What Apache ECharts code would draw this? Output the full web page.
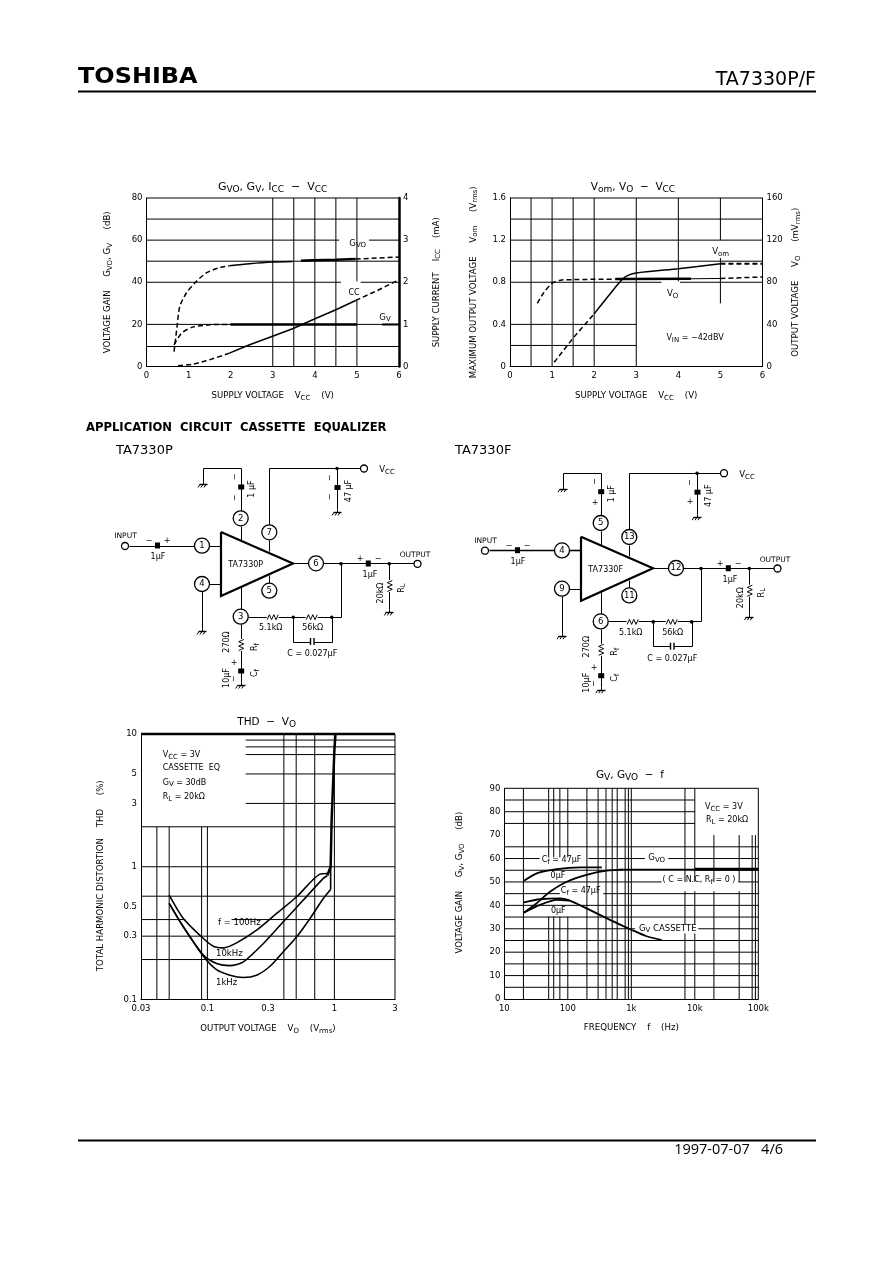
<!DOCTYPE html>
<html><head><meta charset="utf-8">
<style>html,body{margin:0;padding:0;background:#fff}#c{width:892px;height:1263px}</style>
<script src="https://cdn.jsdelivr.net/npm/echarts@6/dist/echarts.min.js"></script>
</head><body><div id="c"></div>
<script>
// ---- Chart 1: GVO, GV, ICC - VCC
const xTicks1=[0,1,2,3,4,5,6];
const gvoDash1=[[0.655,7.1],[0.726,19],[0.79,28.5],[0.947,34.9],[1.145,39.6],[1.42,44.4],[1.74,47],[1.97,47.8]];
const gvoThin1=[[1.97,47.8],[2.45,48.8],[2.98,49.6],[3.47,49.9]];
const gvoThick1=[[3.67,50.2],[3.95,50.4],[4.5,50.7],[4.97,51]];
const gvoDashEnd1=[[4.97,51],[5.5,51.5],[6,52]];
const gvDash1=[[0.655,10.3],[0.83,15.8],[1.1,18.7],[1.5,19.8],[2,20]];
const gvSolid1=[[2,20],[3.5,20],[5,20]];
const gvEnd1=[[5.6,20],[6,20]];
const iccDash1=[[0.75,0.016],[1.1,0.055],[1.42,0.135],[1.97,0.317]];
const iccSolid1=[[1.97,0.317],[2.45,0.515],[2.98,0.713],[3.47,0.895],[3.95,1.109],[4.5,1.347],[4.97,1.568]];
const iccDashEnd1=[[4.97,1.568],[5.5,1.81],[6,2.06]];
const grid1V=[[3,0,80],[3.5,0,80],[4,0,80],[4.5,0,80],[5,0,31.7],[5,40.4,80]];
const grid1H=[[70,0,6],[60,0,4.58],[60,5.29,6],[50,0,6],[40,0,4.62],[40,5.09,6],[20,0,6],[9.5,0,6]];
// ---- Chart 2: Vom, Vo - VCC
const vomDash2=[[1.05,0.04],[1.5,0.27],[2,0.5]];
const vomSolid2=[[2,0.5],[2.4,0.7],[2.7,0.84],[3,0.887],[4,0.928],[5,0.976]];
const vomEnd2=[[5,0.976],[6,0.976]];
const voDash2=[[0.65,60],[0.8,70],[1,79],[1.2,82],[1.5,82.5],[2.5,83]];
const voThick2=[[2.5,83],[4.3,83.3]];
const voThin2=[[4.3,83.3],[5,83.6]];
const voEnd2=[[5,83.6],[6,85]];
const grid2V=[[0.5,0,1.6],[1,0,1.6],[1.5,0,1.6],[2,0,1.6],[3,0,1.6],[4,0.808,1.6],[5,0.6,1.03],[5,1.2,1.6]];
const grid2H=[[1.4,0,6],[1.2,0,6],[1,0,6],[0.8,0,3.6],[0.8,4.04,6],[0.4,0,3],[0.2,0,3]];
// ---- Chart 3: THD - Vo
const thdX=[0.03,0.1,0.3,1,3];
const thdY=[0.1,0.3,0.5,1,3,5,10];
const thd100=[[0.05,0.611],[0.0646,0.408],[0.093,0.288],[0.1114,0.252],[0.1335,0.245],[0.1698,0.267],[0.244,0.333],[0.351,0.445],[0.505,0.594],[0.769,0.88],[0.879,0.89]];
const thd10k=[[0.05,0.53],[0.0646,0.353],[0.093,0.216],[0.118,0.187],[0.1505,0.18],[0.192,0.192],[0.276,0.264],[0.396,0.385],[0.569,0.561],[0.818,0.817],[0.879,0.855]];
const thd1k=[[0.05,0.53],[0.0646,0.353],[0.093,0.212],[0.118,0.168],[0.1505,0.1525],[0.192,0.1465],[0.244,0.1525],[0.311,0.178],[0.396,0.229],[0.505,0.297],[0.643,0.408],[0.818,0.577],[0.934,0.675]];
const thd1kRise=[[0.934,0.675],[0.934,1]];
const thdSteep=[[0.879,0.86],[0.902,0.89],[0.934,1],[0.951,2.25],[1,7.6],[1.02,10]];
const grid3V=[[0.04,0.1,2],[0.05,0.1,2],[0.09,0.1,2],[0.1,0.1,2],[0.4,0.1,10],[0.5,0.1,10],[0.7,0.1,10],[1,0.1,10]];
const grid3H=[[9,0.2,3],[8,0.2,3],[7,0.2,3],[5,0.2,3],[3,0.2,3],[2,0.03,3],[1,0.03,3],[0.6,0.03,3],[0.4,0.03,0.067],[0.4,0.155,3],[0.3,0.03,3],[0.2,0.03,3]];
// ---- Chart 4: GV, GVO - f
const freqTicks={10:'10',100:'100',1000:'1k',10000:'10k',100000:'100k'};
const gvo47=[[20.4,50.5],[32.4,53.7],[66.9,55.5],[155,56.2],[343,56.2]];
const gvo0=[[20.4,36.9],[32.4,40.9],[52.4,45.8],[96,50.1],[198,53],[407,54.8],[750,55.4]];
const gvoFlatThin=[[750,55.4],[10000,55.4]];
const gvoFlatThick=[[10000,55.4],[100000,55.4]];
const gv47=[[20.4,41.3],[36.5,42.6],[75.4,43],[108,42],[198,38.7],[462,33.8],[1000,29.6],[1743,26.8],[3003,25.2]];
const gv0=[[20.4,36.9],[36.5,40.2],[66.9,42.3],[108,42]];
const grid4V=[[20,0,90],
 [50,0,35.2],[50,60.5,90],[60,0,35.2],[60,60.5,90],[75,0,35.2],[75,60.5,90],[100,0,35.2],[100,60.5,90],
 [200,0,90],[300,0,90],[400,0,90],[500,0,90],[600,0,90],[800,0,90],[900,0,90],[1000,0,90],
 [7000,0,28],[7000,32,46],[7000,50,90],[10000,0,28],[10000,32,46],[10000,50,90],
 [20000,0,46],[20000,50,70],[50000,0,46],[50000,50,70],[80000,0,70],[90000,0,70]];
const grid4H=[[85,10,10000],[80,10,10000],[75,10,10000],[65,10,100000],
 [60,10,36],[60,211,1640],[60,3826,100000],[55,10,100000],[50,10,3000],[50,48400,100000],
 [45,10,75],[45,362,100000],[40,10,100000],[35,10,100000],[30,10,1143],[30,11350,100000],
 [25,10,100000],[20,10,100000],[15,10,100000],[10,10,100000],[5,10,100000]];

const FONT='"DejaVu Sans"';
const INK='#000';
const rich=(fs,bold,ff)=>({
  n:{fontSize:fs,fontFamily:ff||FONT,color:INK,fontWeight:bold?'bold':'normal'},
  s:{fontSize:Math.round(fs*0.82),fontFamily:ff||FONT,color:INK,verticalAlign:'bottom',padding:[Math.round(fs*0.45),0,0,0]}
});
function mk(t){
  return t.split(/(_\{[^}]*\})/).filter(Boolean).map(p=>p[0]==='_'?'{s|'+p.slice(2,-1)+'}':'{n|'+p+'}').join('');
}
function segsV(a){const o=[];a.forEach(s=>{o.push([s[0],s[1]],[s[0],s[2]],['-','-']);});return o;}
function segsH(a){const o=[];a.forEach(s=>{o.push([s[1],s[0]],[s[2],s[0]],['-','-']);});return o;}
function line(g,y,data,w,dash,smooth){
  return {type:'line',xAxisIndex:g,yAxisIndex:y,data,symbol:'none',silent:true,animation:false,smooth:smooth?0.25:false,
    connectNulls:false,z:3,lineStyle:{color:INK,width:w,type:dash?[5,3]:'solid'},clip:false};
}
function gridLines(g,y,V,H){
  return {type:'line',xAxisIndex:g,yAxisIndex:y,data:segsV(V).concat(segsH(H)),symbol:'none',silent:true,animation:false,
    connectNulls:false,z:1,lineStyle:{color:INK,width:1},clip:false};
}
const series=[
  gridLines(0,0,grid1V,grid1H),
  line(0,0,gvoDash1,1.5,true,true),line(0,0,gvoThin1,1.5,false,true),line(0,0,gvoThick1,2.5),line(0,0,gvoDashEnd1,1.5,true),
  line(0,0,gvDash1,1.5,true,true),line(0,0,gvSolid1,2.5),line(0,0,gvEnd1,2),
  line(0,1,iccDash1,1.5,true,true),line(0,1,iccSolid1,1.5),line(0,1,iccDashEnd1,1.5,true),
  gridLines(1,2,grid2V,grid2H),
  line(1,2,vomDash2,1.5,true),line(1,2,vomSolid2,1.5,false,true),line(1,2,vomEnd2,2,true),
  line(1,3,voDash2,1.5,true,true),line(1,3,voThick2,2.5),line(1,3,voThin2,1),line(1,3,voEnd2,1.5,true),
  gridLines(2,4,grid3V,grid3H),
  line(2,4,thd100,1.6,false,true),line(2,4,thd10k,1.6,false,true),line(2,4,thd1k,1.6,false,true),line(2,4,thd1kRise,1.6),line(2,4,thdSteep,2.5),
  gridLines(3,5,grid4V,grid4H),
  line(3,5,gvo47,1.8,false,true),line(3,5,gvo0,1.8,false,true),line(3,5,gvoFlatThin,1.2),line(3,5,gvoFlatThick,3),
  line(3,5,gv47,1.8,false,true),line(3,5,gv0,1.8,false,true)
];
const NF=8.6;
const lab={color:INK,fontFamily:FONT,fontSize:8.5};
const al=(w=1)=>({show:true,onZero:false,lineStyle:{color:INK,width:w}});
function xLinear(g,name,gap){return {type:'value',gridIndex:g,min:0,max:6,interval:1,name:mk(name),nameLocation:'middle',nameGap:gap,
  nameTextStyle:{rich:rich(NF)},axisLine:al(),axisTick:{show:false},splitLine:{show:false},axisLabel:Object.assign({margin:5},lab)};}
function yVal(g,min,max,intv,pos,name,gap,w,pad){return {type:'value',gridIndex:g,min,max,interval:intv,position:pos,name:mk(name),nameLocation:'middle',nameGap:gap,nameRotate:90,
  nameTextStyle:{rich:rich(NF),padding:pad||0},axisLine:al(w||1),axisTick:{show:false},splitLine:{show:false},axisLabel:Object.assign({margin:4},lab)};}

const G=[];
const ga={silent:true};
function W(pts,w){const snap=pts.map(p=>[Math.round(p[0])+.5,Math.round(p[1])+.5]);
  G.push({type:'polyline',...ga,z:10,shape:{points:snap},style:{stroke:INK,lineWidth:w||1,fill:null}});}
function RAW(pts,w,z){G.push({type:'polyline',...ga,z:z||10,shape:{points:pts},style:{stroke:INK,lineWidth:w||1,fill:null}});}
function CIR(x,y,r,w){G.push({type:'circle',...ga,z:11,shape:{cx:x,cy:y,r},style:{stroke:INK,lineWidth:w||1.3,fill:'#fff'}});}
function DOT(x,y){G.push({type:'circle',...ga,z:12,shape:{cx:x,cy:y,r:1.8},style:{fill:INK}});}
function TX(x,y,t,o){o=o||{};const fs=o.fs||8;const ff=o.ff||FONT;
  G.push({type:'text',...ga,z:13,x,y,rotation:o.rot||0,scaleX:o.sx||1,style:{text:mk(t),rich:rich(fs,o.bold,ff),align:o.align||'center',verticalAlign:'middle',fill:INK,font:`${o.bold?'bold ':''}${fs}px ${ff}`}});}
function GND(x,y){W([[x,y-3],[x,y]]);W([[x-4,y],[x+4,y]],1.4);RAW([[x-3,y+.5],[x-5,y+3.5]],1);RAW([[x,y+.5],[x-2,y+3.5]],1);RAW([[x+3,y+.5],[x+1,y+3.5]],1);}
function CAPV(x,y){G.push({type:'rect',...ga,z:12,shape:{x:x-2.5,y:y-2.5,width:6,height:5},style:{fill:INK}});}
function CAPH(x,y){G.push({type:'rect',...ga,z:12,shape:{x:x-2.5,y:y-2.5,width:5,height:6},style:{fill:INK}});}
function RESH(x,y){const a=[];for(let i=-5;i<=5;i++)a.push([x+i*1.1,y+.5+(i%2?(i%4==1||i%4==-3?-2.5:2.5):0)]);
  G.push({type:'rect',...ga,z:11,shape:{x:x-6,y:y-1,width:12,height:3},style:{fill:'#fff'}});RAW(a,1,12);}
function RESV(x,y){const a=[];for(let i=-5;i<=5;i++)a.push([x+.5+(i%2?(i%4==1||i%4==-3?-2.5:2.5):0),y+i*1.1]);
  G.push({type:'rect',...ga,z:11,shape:{x:x-1,y:y-6,width:3,height:12},style:{fill:'#fff'}});RAW(a,1,12);}
function circuit(dx,dy,p,opt){
  const X=x=>x+dx,Y=y=>y+dy;
  RAW([[X(221),Y(532)],[X(221),Y(596)],[X(293),Y(563.5)],[X(221),Y(532)]],2.2);
  W([[X(240.7),Y(526)],[X(240.7),Y(540)]]);
  W([[X(240.7),Y(511)],[X(240.7),Y(468)],[X(203),Y(468)],[X(203),Y(481)]]);GND(X(203),Y(484));
  CAPV(X(240.7),Y(487));
  TX(X(252),Y(489),'1 µF',{rot:Math.PI/2});
  TX(X(235),Y(477),'−',{rot:Math.PI/2});TX(X(235),Y(498),opt.f?'+':'−',{rot:opt.f?0:Math.PI/2});
  W([[X(269.3),Y(525)],[X(269.3),Y(468)],[X(360),Y(468)]]);W([[X(269.3),Y(540)],[X(269.3),Y(551)]]);
  DOT(X(337),Y(468.5));CIR(X(364),Y(468.5),3.5);TX(X(387),Y(470),'V_{CC}',{fs:8.5});
  W([[X(337),Y(468)],[X(337),Y(509)]]);GND(X(337),Y(512));CAPV(X(337),Y(487.5));
  TX(X(349),Y(491),'47 µF',{rot:Math.PI/2});TX(X(330),Y(478),'−',{rot:Math.PI/2});TX(X(330),Y(497),opt.f?'+':'−',{rot:opt.f?0:Math.PI/2});
  W([[X(129),Y(545.7)],[X(195),Y(545.7)]],opt.f?1.6:1);CAPH(X(157.5),Y(545));CIR(X(125),Y(546),3.5);
  W([[X(209),Y(545.7)],[X(221),Y(545.7)]],opt.f?1.6:1);
  TX(X(125.5),Y(536),'INPUT',{fs:7.5});TX(X(149),Y(541),'−',{});TX(X(167),Y(541),opt.f?'−':'+',{});TX(X(158),Y(557),'1µF',{});
  W([[X(209),Y(584)],[X(221),Y(584)]]);W([[X(202),Y(591)],[X(202),Y(628)]]);GND(X(202),Y(631));
  W([[X(293),Y(563.3)],[X(309),Y(563.3)]]);W([[X(323),Y(563.3)],[X(414),Y(563.3)]]);
  DOT(X(341),Y(563.8));DOT(X(389.3),Y(563.8));CAPH(X(368.3),Y(563));CIR(X(417.5),Y(563.8),3.5);
  TX(X(360),Y(559),'+');TX(X(378),Y(559),'−');TX(X(370),Y(575),'1µF');TX(X(415),Y(555),'OUTPUT',{fs:7.5});
  W([[X(389.3),Y(563.3)],[X(389.3),Y(609)]]);GND(X(389.3),Y(612));RESV(X(389.3),Y(586));
  TX(X(380.5),Y(593),'20kΩ',{rot:Math.PI/2});TX(X(401.5),Y(588),'R_{L}',{rot:Math.PI/2});
  W([[X(341),Y(563.3)],[X(341),Y(616.7)],[X(248),Y(616.7)]],1);
  DOT(X(293.3),Y(617.2));DOT(X(331.7),Y(617.2));RESH(X(272.7),Y(616.7));RESH(X(311.7),Y(616.7));
  TX(X(270.7),Y(628),'5.1kΩ');TX(X(312.7),Y(628),'56kΩ');
  W([[X(293.3),Y(616.7)],[X(293.3),Y(641.7)],[X(331.7),Y(641.7)],[X(331.7),Y(616.7)]]);
  G.push({type:'rect',...ga,z:11,shape:{x:X(310.5),y:Y(638),width:3.6,height:7},style:{fill:'#fff'}});
  RAW([[X(310.5),Y(638)],[X(310.5),Y(645)]],1.4,12);RAW([[X(314),Y(638)],[X(314),Y(645)]],1.4,12);
  TX(X(312.3),Y(654.3),'C = 0.027µF');
  W([[X(240.7),Y(609)],[X(240.7),Y(585.5)]]);W([[X(269.3),Y(583)],[X(269.3),Y(575)]]);
  W([[X(240.7),Y(624)],[X(240.7),Y(682)]]);RESV(X(240.7),Y(645));CAPV(X(240.7),Y(671));GND(X(240.7),Y(685));
  TX(X(226.7),Y(642),'270Ω',{rot:Math.PI/2});TX(X(255),Y(647),'R_{f}',{rot:Math.PI/2});
  TX(X(226.7),Y(678),'10µF',{rot:Math.PI/2});TX(X(255),Y(673),'C_{f}',{rot:Math.PI/2});
  TX(X(234),Y(663),'+');TX(X(234),Y(679),'−',{rot:Math.PI/2});
  [[240.7,518.3,p[0]],[269.3,532.3,p[1]],[202,545.7,p[2]],[202,584,p[3]],[316,563.3,p[4]],[269.3,590.7,p[5]],[240.7,616.7,p[6]]].forEach(q=>{
    CIR(X(q[0]),Y(q[1]),7.5);TX(X(q[0]),Y(q[1]),q[2],{fs:8.5});
  });
  TX(X(245.7),Y(565),opt.name,{fs:8});
}
circuit(0,0,['2','7','1','4','6','5','3'],{name:'TA7330P'});
circuit(360,4.7,['5','13','4','9','12','11','6'],{name:'TA7330F',f:true});
TX(78,77.5,'TOSHIBA',{fs:21,bold:true,align:'left',sx:1.14});
TX(816,80,'TA7330P/F',{fs:19,align:'right'});
G.push({type:'line',...ga,shape:{x1:78,y1:91.5,x2:816,y2:91.5},style:{stroke:INK,lineWidth:2}});
G.push({type:'line',...ga,shape:{x1:78,y1:1140.5,x2:816,y2:1140.5},style:{stroke:INK,lineWidth:2}});
TX(783,1150,'1997-07-07   4/6',{fs:14.5,align:'right',ff:'"Open Sans"'});
TX(86,428,'APPLICATION  CIRCUIT  CASSETTE  EQUALIZER',{fs:11.6,bold:true,align:'left'});
TX(116,451,'TA7330P',{fs:13,align:'left'});
TX(455,451,'TA7330F',{fs:13,align:'left'});
TX(272.7,187.3,'G_{VO}, G_{V}, I_{CC}  −  V_{CC}',{fs:11});
TX(633,187.3,'V_{om}, V_{O}  −  V_{CC}',{fs:10.5});
TX(266.7,722,'THD  −  V_{O}',{fs:10.5});
TX(630,775,'G_{V}, G_{VO}  −  f',{fs:10.5});
TX(357.7,243.3,'G_{VO}',{fs:8.5});TX(354,292.7,'CC',{fs:8});TX(385,317.3,'G_{V}',{fs:8.5});
TX(720.7,251.7,'V_{om}',{fs:8.5});TX(672.7,294,'V_{O}',{fs:8.5});TX(695,337.7,'V_{IN} = −42dBV',{fs:8});
TX(162.7,755,'V_{CC} = 3V',{align:'left'});TX(162.7,768,'CASSETTE  EQ',{align:'left'});TX(162.7,782.5,'G_{V} = 30dB',{align:'left'});TX(162.7,796.7,'R_{L} = 20kΩ',{align:'left'});
TX(218,923,'f = 100Hz',{align:'left',fs:8.5});TX(216,954,'10kHz',{align:'left',fs:8.5});TX(216,982.7,'1kHz',{align:'left',fs:8.5});
TX(705,807,'V_{CC} = 3V',{align:'left'});TX(706,820,'R_{L} = 20kΩ',{align:'left'});
TX(541.7,860,'C_{f} = 47µF',{align:'left'});TX(656.7,857.7,'G_{VO}',{fs:8.5});TX(699,880,'( C = N.C, R_{f} = 0 )');
TX(558,875.7,'0µF');TX(580.7,891,'C_{f} = 47µF');TX(558.3,910.7,'0µF');TX(667.7,928.3,'G_{V} CASSETTE',{fs:8.5});

const option={
  animation:false,backgroundColor:'#fff',
  grid:[
    {left:146.5,top:198,width:252.5,height:168.5},
    {left:510,top:198,width:252.5,height:168.5},
    {left:141,top:734,width:254,height:265.5},
    {left:504.3,top:788.3,width:254,height:210.7}
  ],
  xAxis:[
    xLinear(0,'SUPPLY VOLTAGE    V_{CC}    (V)',24),
    xLinear(1,'SUPPLY VOLTAGE    V_{CC}    (V)',24),
    {type:'log',gridIndex:2,logBase:10,min:thdX[0],max:thdX[thdX.length-1],name:mk('OUTPUT VOLTAGE    V_{O}    (V_{rms})'),nameLocation:'middle',nameGap:24,
     nameTextStyle:{rich:rich(NF)},axisLine:{show:true,lineStyle:{color:INK,width:1}},axisTick:{show:false},splitLine:{show:false},minorSplitLine:{show:false},
     axisLabel:Object.assign({margin:5,customValues:thdX,showMinLabel:true,showMaxLabel:true,formatter:v=>String(+(+v).toPrecision(2))},lab)},
    {type:'log',gridIndex:3,logBase:10,min:10,max:100000,name:mk('FREQUENCY    f    (Hz)'),nameLocation:'middle',nameGap:24,
     nameTextStyle:{rich:rich(NF)},axisLine:{show:true,lineStyle:{color:INK,width:1}},axisTick:{show:false},splitLine:{show:false},minorSplitLine:{show:false},
     axisLabel:Object.assign({margin:5,formatter:v=>freqTicks[Math.round(v)]||''},lab)}
  ],
  yAxis:[
    yVal(0,0,80,20,'left','VOLTAGE GAIN     G_{VO}, G_{V}     (dB)',33),
    yVal(0,0,4,1,'right','SUPPLY CURRENT    I_{CC}    (mA)',32,2.5),
    yVal(1,0,1.6,0.4,'left','MAXIMUM OUTPUT VOLTAGE     V_{om}     (V_{rms})',31),
    yVal(1,0,160,40,'right','OUTPUT VOLTAGE     V_{O}     (mV_{rms})',28),
    {type:'log',gridIndex:2,logBase:10,min:0.1,max:10,name:mk('TOTAL HARMONIC DISTORTION    THD     (%)'),nameLocation:'middle',nameGap:36,nameRotate:90,
     nameTextStyle:{rich:rich(NF),padding:[0,18,0,0]},axisLine:{show:true,lineStyle:{color:INK,width:1}},axisTick:{show:false},splitLine:{show:false},minorSplitLine:{show:false},
     axisLabel:Object.assign({margin:4,customValues:thdY,showMinLabel:true,showMaxLabel:true,formatter:v=>String(+(+v).toPrecision(2))},lab)},
    {type:'value',gridIndex:3,min:0,max:90,interval:10,name:mk('VOLTAGE GAIN     G_{V}, G_{VO}     (dB)'),nameLocation:'middle',nameGap:39,nameRotate:90,
     nameTextStyle:{rich:rich(NF),padding:[0,0,0,22]},axisLine:al(),axisTick:{show:false},splitLine:{show:false},axisLabel:Object.assign({margin:4},lab)}
  ],
  series,
  graphic:{elements:G}
};
[[0,0,80],[1,2,1.6]].forEach(f=>{series.push(line(f[0],f[1],[[0,f[2]],[6,f[2]]],1));});
series.push(line(2,4,[[0.03,10],[3,10]],2.5),line(2,4,[[3,0.1],[3,10]],1));
series.push(line(3,5,[[10,90],[100000,90]],1),line(3,5,[[100000,0],[100000,90]],1));
const chart=echarts.init(document.getElementById('c'),null,{renderer:'canvas'});
chart.setOption(option);
</script></body></html>
